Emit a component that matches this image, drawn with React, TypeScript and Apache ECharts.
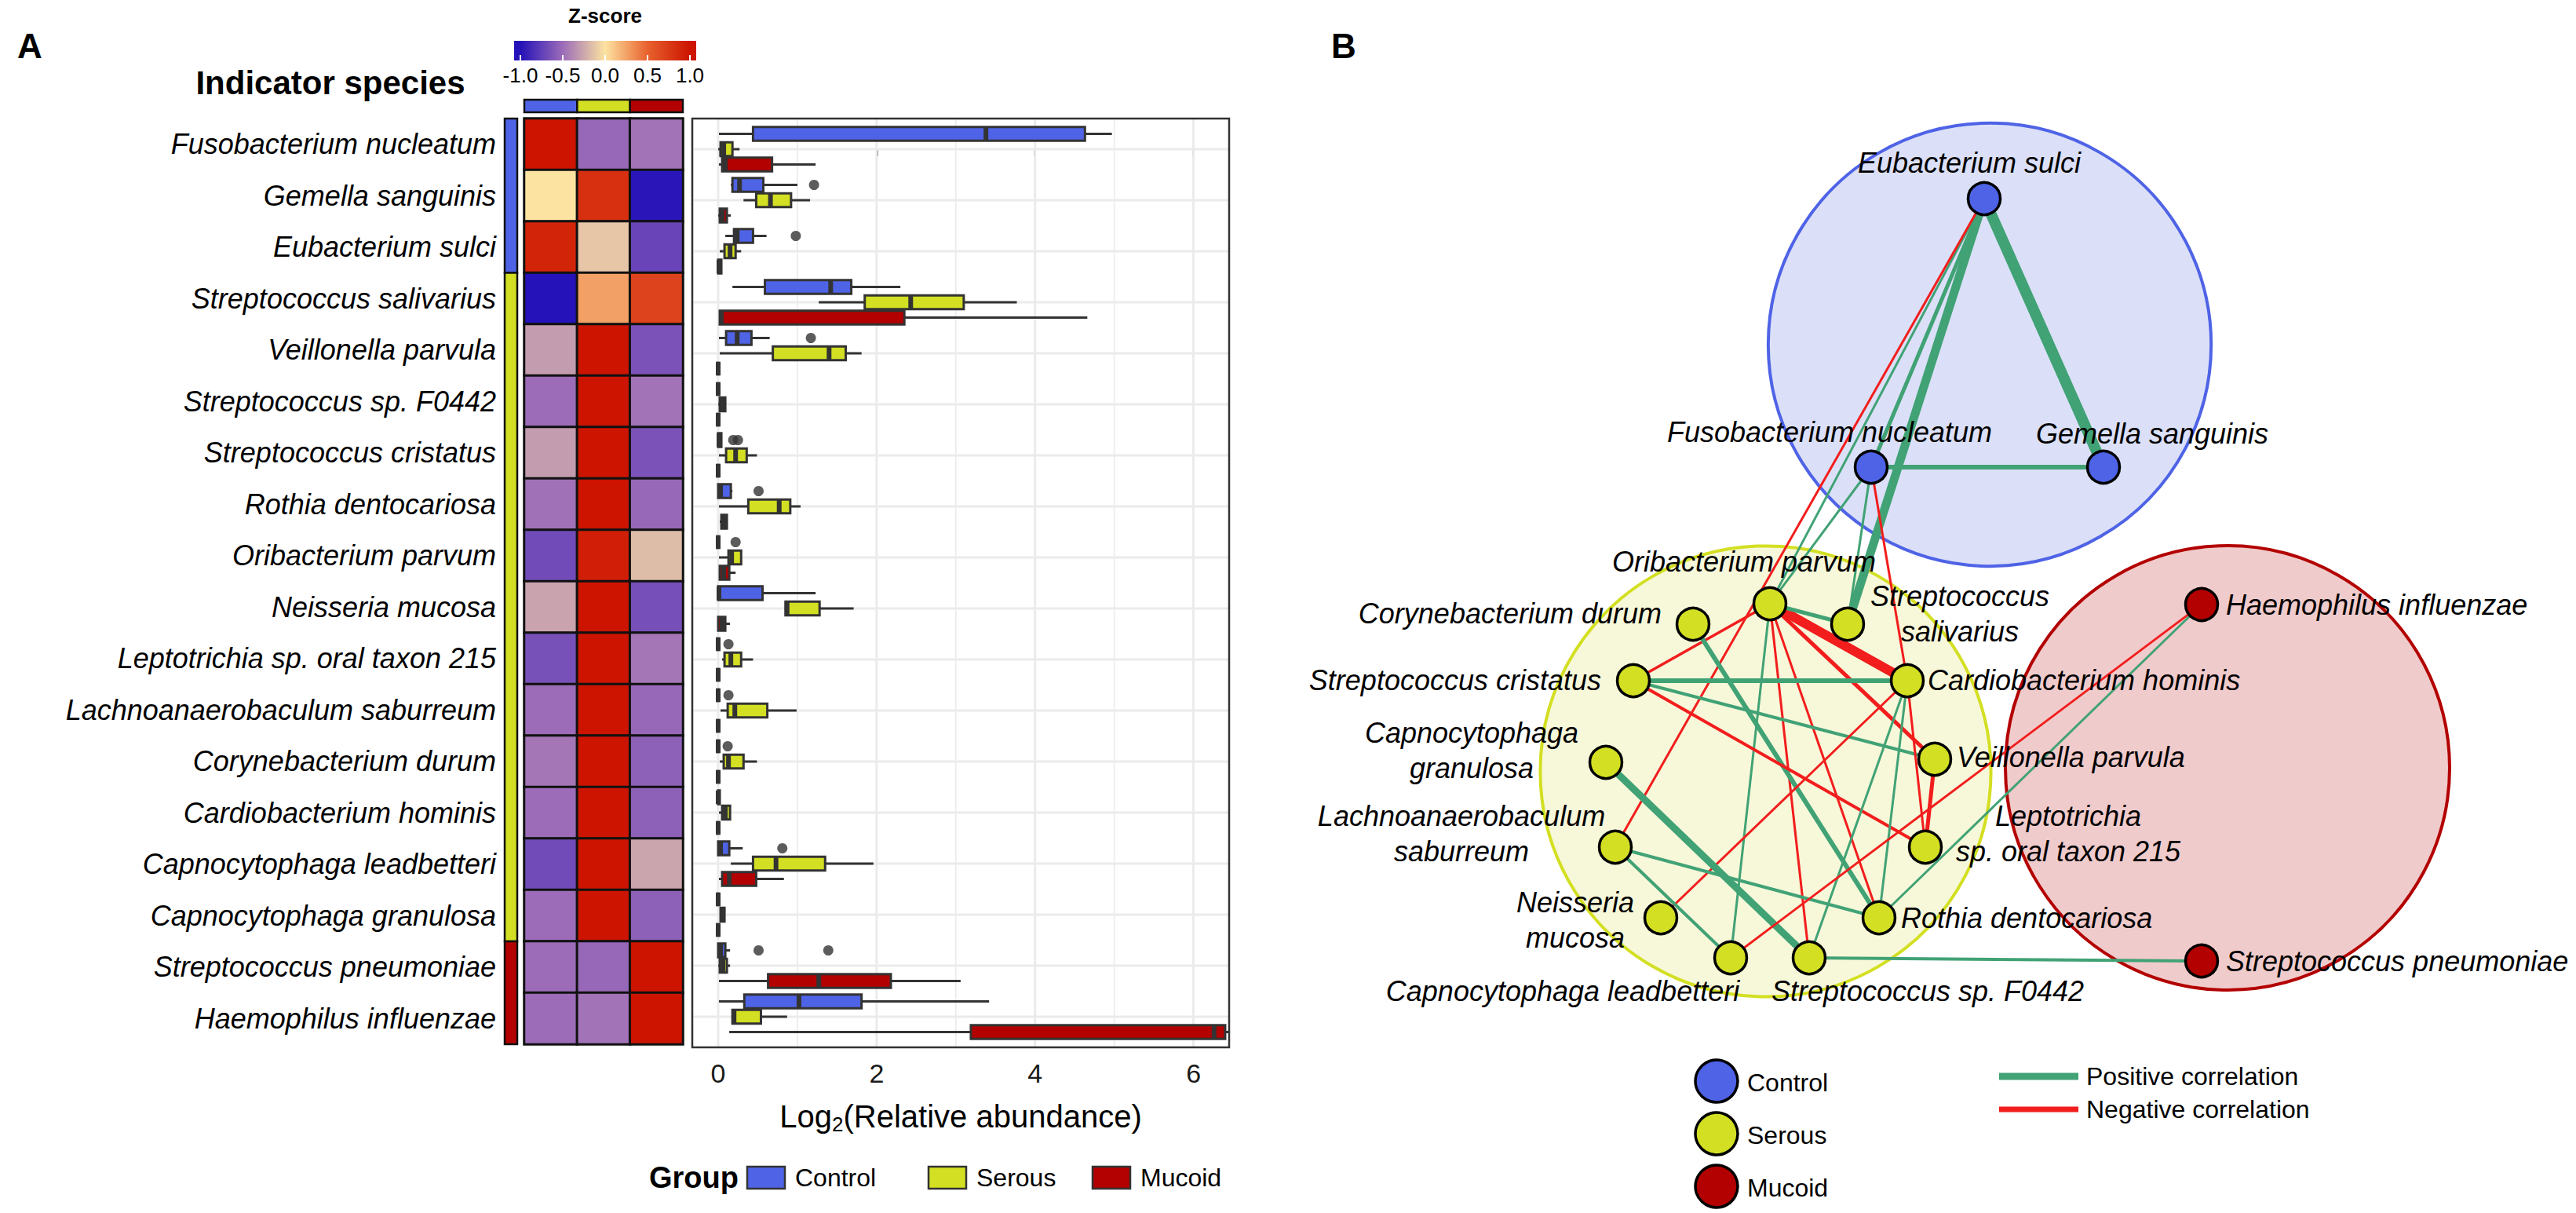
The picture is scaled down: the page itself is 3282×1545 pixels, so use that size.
import React, { useEffect, useRef } from 'react';
import * as echarts from 'echarts';

const FONT = '"Liberation Sans", Arial, Helvetica, sans-serif';

// ---------------- Panel A data ----------------
const species = [
  'Fusobacterium nucleatum', 'Gemella sanguinis', 'Eubacterium sulci', 'Streptococcus salivarius',
  'Veillonella parvula', 'Streptococcus sp. F0442', 'Streptococcus cristatus', 'Rothia dentocariosa',
  'Oribacterium parvum', 'Neisseria mucosa', 'Leptotrichia sp. oral taxon 215', 'Lachnoanaerobaculum saburreum',
  'Corynebacterium durum', 'Cardiobacterium hominis', 'Capnocytophaga leadbetteri', 'Capnocytophaga granulosa',
  'Streptococcus pneumoniae', 'Haemophilus influenzae',
];
const groupNames = ['Control', 'Serous', 'Mucoid'];
const speciesGroup = [0, 0, 0, 1, 1, 1, 1, 1, 1, 1, 1, 1, 1, 1, 1, 1, 2, 2];

// z-scores per group
const zControl = [1.0, 0.0, 0.9, -1.0, -0.3, -0.5, -0.3, -0.48, -0.68, -0.27, -0.65, -0.5, -0.46, -0.5, -0.68, -0.5, -0.5, -0.5];
const zSerous = [-0.52, 0.82, -0.12, 0.26, 1, 1, 1, 1, 0.93, 1, 1, 1, 1, 1, 1, 1, -0.52, -0.47];
const zMucoid = [-0.47, -0.98, -0.72, 0.7, -0.64, -0.47, -0.64, -0.52, -0.16, -0.66, -0.46, -0.52, -0.56, -0.56, -0.26, -0.56, 1, 1];
const zTicks = [-1, -0.5, 0, 0.5, 1];
const zBarRange = [-1.074, 1.074];

// boxplot stats [min, q1, median, q3, max] of log2(relative abundance)
const boxControl = [
  [0.01, 0.44, 3.38, 4.63, 4.97], [0.16, 0.18, 0.27, 0.57, 1.0], [0.09, 0.2, 0.24, 0.44, 0.61],
  [0.18, 0.59, 1.42, 1.68, 2.3], [0.01, 0.1, 0.24, 0.42, 0.65], [0, 0, 0, 0, 0],
  [0, 0, 0.01, 0.04, 0.05], [0, 0, 0.03, 0.16, 0.18], [0, 0, 0, 0, 0],
  [0, 0, 0.01, 0.56, 1.23], [0, 0, 0, 0, 0], [0, 0, 0, 0, 0],
  [0, 0, 0, 0, 0], [0, 0, 0, 0.02, 0.02], [0, 0, 0.03, 0.14, 0.31],
  [0, 0, 0, 0, 0], [0, 0, 0.03, 0.09, 0.15], [0.01, 0.33, 1.02, 1.81, 3.42],
];
const boxSerous = [
  [0.0, 0.03, 0.07, 0.18, 0.27], [0.32, 0.48, 0.66, 0.92, 1.16], [0.02, 0.08, 0.15, 0.22, 0.29],
  [1.27, 1.85, 2.43, 3.1, 3.77], [0.02, 0.69, 1.4, 1.61, 1.81], [0.0, 0.02, 0.05, 0.09, 0.1],
  [0.01, 0.1, 0.22, 0.36, 0.49], [0.01, 0.38, 0.77, 0.91, 1.04], [0.01, 0.13, 0.17, 0.29, 0.29],
  [0.84, 0.85, 0.87, 1.28, 1.71], [0.05, 0.08, 0.16, 0.29, 0.44], [0.03, 0.12, 0.21, 0.62, 0.99],
  [0.02, 0.07, 0.13, 0.32, 0.49], [0.01, 0.05, 0.09, 0.15, 0.15], [0.16, 0.44, 0.73, 1.35, 1.96],
  [0.03, 0.03, 0.05, 0.08, 0.08], [0.0, 0.02, 0.06, 0.11, 0.15], [0.18, 0.18, 0.2, 0.54, 0.87],
];
const boxMucoid = [
  [0.01, 0.05, 0.09, 0.68, 1.23], [0.0, 0.02, 0.05, 0.11, 0.16], [0, 0, 0.01, 0.04, 0.04],
  [0.01, 0.02, 0.04, 2.35, 4.66], [0, 0, 0, 0, 0], [0, 0, 0, 0, 0],
  [0, 0, 0, 0, 0], [0.02, 0.04, 0.08, 0.11, 0.12], [0.01, 0.02, 0.07, 0.14, 0.22],
  [0, 0, 0.05, 0.09, 0.15], [0, 0, 0, 0, 0], [0, 0, 0, 0, 0],
  [0, 0, 0, 0, 0], [0, 0, 0, 0, 0], [0.01, 0.05, 0.14, 0.48, 0.83],
  [0, 0, 0, 0, 0], [0.01, 0.63, 1.27, 2.18, 3.06], [0.14, 3.19, 6.26, 6.4, 6.45],
];
// outliers [speciesIndex, value]
const outControl = [[1, 1.21], [2, 0.98], [4, 1.17], [6, 0.19], [6, 0.25], [7, 0.51], [8, 0.22], [10, 0.13], [11, 0.13], [12, 0.12], [14, 0.81], [16, 0.51], [16, 1.39]];
const outSerous: number[][] = [];
const outMucoid: number[][] = [];
const xTicks = [0, 2, 4, 6];
const xGridValues = [0, 1, 2, 3, 4, 5, 6];

// ---------------- Panel B data ----------------
const netNames = [
  'Eubacterium sulci', 'Fusobacterium nucleatum', 'Gemella sanguinis', 'Oribacterium parvum',
  'Streptococcus\nsalivarius', 'Corynebacterium durum', 'Streptococcus cristatus', 'Cardiobacterium hominis',
  'Capnocytophaga\ngranulosa', 'Veillonella parvula', 'Lachnoanaerobaculum\nsaburreum', 'Leptotrichia\nsp. oral taxon 215',
  'Neisseria\nmucosa', 'Rothia dentocariosa', 'Capnocytophaga leadbetteri', 'Streptococcus sp. F0442',
  'Haemophilus influenzae', 'Streptococcus pneumoniae',
];
const netGroup = [0, 0, 0, 1, 1, 1, 1, 1, 1, 1, 1, 1, 1, 1, 1, 1, 2, 2];
// layout coordinates
const netX = [2528, 2384, 2680, 2255, 2354, 2157, 2081, 2430, 2046, 2465, 2058, 2453, 2116, 2394, 2205, 2305, 2805, 2805];
const netY = [253, 595, 595, 769, 795, 795, 867, 867, 971, 967, 1079, 1079, 1169, 1169, 1220, 1220, 770, 1224];
// edges: source, target, sign (1 positive / -1 negative), weight
const edgeSource = [0, 0, 0, 0, 0, 1, 1, 1, 1, 3, 3, 3, 3, 3, 3, 3, 5, 6, 6, 6, 7, 7, 7, 7, 9, 8, 10, 10, 15, 14, 13];
const edgeTarget = [2, 4, 1, 3, 10, 2, 3, 4, 7, 7, 4, 6, 9, 14, 13, 15, 13, 7, 9, 11, 12, 15, 13, 11, 11, 15, 13, 14, 17, 16, 16];
const edgeSign = [1, 1, 1, 1, -1, 1, 1, 1, -1, -1, 1, -1, -1, 1, -1, -1, 1, 1, 1, -1, -1, 1, 1, -1, -1, 1, 1, 1, 1, -1, 1];
const edgeWeight = [14, 11, 5, 3, 3, 6, 3, 3, 3, 12, 5, 3.5, 5, 3, 3, 3, 6, 6, 4, 4, 3, 3, 3, 3, 5, 9, 4, 4, 4, 3, 3];

// ---------------- styles / layout ----------------
const groupColors = ['#4f63e6', '#d3df22', '#b30000'];
const zPalette = ['#2512b8', '#9c6cb8', '#fde3a1', '#e8622e', '#cc1400'];
const hullFill = ['#dbe0f8', '#f7f8d9', '#f0cbcb'];
const hullShift = [[3, 15], [-6, -12], [33, -19]];
const edgeColors = { pos: '#41a275', neg: '#f21d1d' };
const HM = { left: 668, top: 151, width: 202, height: 1179 };
const BX = { left: 882, top: 151, width: 684, height: 1183 };
const CB = { left: 663, top: 52, width: 216, height: 25 };
const NET = { left: 1640, top: 0, width: 1642, height: 1545 };
const BX_X = [-0.327, 6.45];
const BX_Y = [-0.6, 17.6];
const DODGE = [-0.3, 0, 0.3];
const BOX_H = 0.27;
const HULL_PAD = 56;
// label anchors relative to the node: [dx, dy, align]
const netLabelStyle: [number, number, string][] = [
  [-19, -46, 'center'], [-53, -45, 'center'], [62, -43, 'center'], [-33, -54, 'center'],
  [143, -13, 'center'], [-40, -14, 'right'], [-41, -1, 'right'], [26, -1, 'left'],
  [-171, -15, 'center'], [28, -3, 'left'], [-196, -17, 'center'], [182, -17, 'center'],
  [-109, 3, 'center'], [28, 0, 'left'], [-214, 42, 'center'], [151, 42, 'center'],
  [31, 0, 'left'], [31, 0, 'left'],
];

function txt(text: string, x: number, y: number, size: number, opts: any = {}) {
  return {
    type: 'text', x, y, silent: true,
    style: {
      text, fill: '#000', fontSize: size, fontFamily: FONT, fontWeight: opts.bold ? 'bold' : 'normal',
      fontStyle: opts.italic ? 'italic' : 'normal',
      align: opts.align || 'left', textAlign: opts.align || 'left',
      verticalAlign: 'middle', textVerticalAlign: 'middle', ...(opts.extra || {}),
    },
  };
}

function buildOption() {
  const zAll = [zControl, zSerous, zMucoid];
  const heatData: number[][] = [];
  species.forEach((_, i) => groupNames.forEach((_, g) => heatData.push([g, i, zAll[g][i]])));

  // contiguous segments of indicator groups
  const segs: number[][] = [];
  speciesGroup.forEach((g, i) => {
    const last = segs[segs.length - 1];
    if (last && last[2] === g) last[1] = i; else segs.push([i, i, g]);
  });

  const boxStats = [boxControl, boxSerous, boxMucoid];
  const outs = [outControl, outSerous, outMucoid];

  const span = zBarRange[1] - zBarRange[0];
  const gradStops = [
    { offset: 0, color: zPalette[0] },
    ...zTicks.map((t, k) => ({ offset: (t - zBarRange[0]) / span, color: zPalette[k] })),
    { offset: 1, color: zPalette[zPalette.length - 1] },
  ];

  const series: any[] = [
    {
      type: 'heatmap', xAxisIndex: 0, yAxisIndex: 0, data: heatData,
      itemStyle: { borderColor: '#111', borderWidth: 3 }, emphasis: { disabled: true }, silent: true,
    },
    {
      type: 'custom', xAxisIndex: 0, yAxisIndex: 0, clip: false, silent: true, z: 3,
      data: segs,
      renderItem: (p: any, api: any) => {
        const a = api.coord([0, api.value(0)]);
        const b = api.coord([0, api.value(1)]);
        const band = api.size([0, 1])[1];
        const colW = api.size([1, 0])[0];
        return {
          type: 'rect',
          shape: { x: a[0] - colW / 2 - 25, y: a[1] - band / 2, width: 16, height: b[1] - a[1] + band },
          style: { fill: groupColors[api.value(2)], stroke: '#111', lineWidth: 2.5 },
        };
      },
    },
    {
      type: 'custom', xAxisIndex: 0, yAxisIndex: 0, clip: false, silent: true, z: 3,
      data: groupNames.map((_, g) => [g, 0]),
      renderItem: (p: any, api: any) => {
        const a = api.coord([api.value(0), 0]);
        const band = api.size([0, 1])[1];
        const colW = api.size([1, 0])[0];
        return {
          type: 'rect',
          shape: { x: a[0] - colW / 2, y: a[1] - band / 2 - 24, width: colW, height: 16 },
          style: { fill: groupColors[api.value(0)], stroke: '#111', lineWidth: 2.5 },
        };
      },
    },
    {
      type: 'custom', xAxisIndex: 2, yAxisIndex: 2, clip: false, silent: true, z: 2,
      data: [[0, 0]],
      renderItem: (p: any, api: any) => {
        const a = api.coord([zBarRange[0], 1]);
        const b = api.coord([zBarRange[1], 0]);
        return {
          type: 'rect', shape: { x: a[0], y: a[1], width: b[0] - a[0], height: b[1] - a[1] },
          style: { fill: new echarts.graphic.LinearGradient(0, 0, 1, 0, gradStops) },
        };
      },
    },
    // grid lines of the boxplot panel
    {
      type: 'custom', xAxisIndex: 1, yAxisIndex: 1, silent: true, z: 1,
      data: xGridValues.map((v) => [v, 0]),
      renderItem: (p: any, api: any) => {
        const v = api.value(0);
        const a = api.coord([v, BX_Y[0]]);
        const b = api.coord([v, BX_Y[1]]);
        return { type: 'line', shape: { x1: a[0], y1: a[1], x2: b[0], y2: b[1] }, style: { stroke: '#ebebeb', lineWidth: v % 2 === 0 ? 3 : 1.6 } };
      },
    },
    {
      type: 'custom', xAxisIndex: 1, yAxisIndex: 1, silent: true, z: 1,
      data: species.map((_, i) => [0, i]),
      renderItem: (p: any, api: any) => {
        const i = api.value(1);
        const a = api.coord([BX_X[0], i]);
        const b = api.coord([BX_X[1], i]);
        return { type: 'line', shape: { x1: a[0], y1: a[1], x2: b[0], y2: b[1] }, style: { stroke: '#ebebeb', lineWidth: 3 } };
      },
    },
    ...groupNames.map((g, gi) => ({
      type: 'custom', name: g, xAxisIndex: 1, yAxisIndex: 1, z: 3, clip: false, silent: true,
      data: boxStats[gi].map((b, i) => [i, ...b]),
      encode: { x: [1, 2, 3, 4, 5], y: 0 },
      renderItem: (p: any, api: any) => {
        const yv = api.value(0) + DODGE[gi];
        const pts = [1, 2, 3, 4, 5].map((k) => api.coord([api.value(k), yv]));
        const h = api.size([0, BOX_H])[1];
        const cy = pts[0][1];
        const st = { stroke: '#333', lineWidth: 3 };
        return {
          type: 'group', children: [
            { type: 'line', shape: { x1: pts[0][0], y1: cy, x2: pts[1][0], y2: cy }, style: st },
            { type: 'line', shape: { x1: pts[3][0], y1: cy, x2: pts[4][0], y2: cy }, style: st },
            { type: 'rect', shape: { x: pts[1][0], y: cy - h / 2, width: pts[3][0] - pts[1][0], height: h }, style: { fill: groupColors[gi], stroke: '#333', lineWidth: 3 } },
            { type: 'line', shape: { x1: pts[2][0], y1: cy - h / 2, x2: pts[2][0], y2: cy + h / 2 }, style: { stroke: '#333', lineWidth: 6 } },
          ],
        };
      },
    })),
    ...groupNames.map((g, gi) => ({
      type: 'scatter', xAxisIndex: 1, yAxisIndex: 1, z: 4, silent: true, symbolSize: 13,
      itemStyle: { color: '#333' },
      data: outs[gi].map((o) => [o[1], o[0] + DODGE[gi]]),
    })),
    // panel border
    {
      type: 'custom', xAxisIndex: 1, yAxisIndex: 1, silent: true, z: 6, data: [[0, 0]],
      renderItem: (p: any) => ({
        type: 'rect', shape: { x: p.coordSys.x, y: p.coordSys.y, width: p.coordSys.width, height: p.coordSys.height },
        style: { fill: 'none', stroke: '#333', lineWidth: 2.5 },
      }),
    },
    // network group hulls
    {
      type: 'custom', xAxisIndex: 3, yAxisIndex: 3, silent: true, clip: false, z: 1,
      data: groupNames.map((_, g) => [g, 0]),
      renderItem: (p: any, api: any) => {
        const g = api.value(0);
        const pts = netX.map((x, i) => [x, netY[i], netGroup[i]]).filter((d) => d[2] === g).map((d) => api.coord([d[0], d[1]]));
        const xs = pts.map((q: number[]) => q[0]);
        const ys = pts.map((q: number[]) => q[1]);
        const cx0 = (Math.min(...xs) + Math.max(...xs)) / 2;
        const cy0 = (Math.min(...ys) + Math.max(...ys)) / 2;
        const r = Math.max(...pts.map((q: number[]) => Math.hypot(q[0] - cx0, q[1] - cy0))) + HULL_PAD;
        return {
          type: 'circle', shape: { cx: cx0 + hullShift[g][0], cy: cy0 + hullShift[g][1], r },
          style: { fill: hullFill[g], stroke: groupColors[g], lineWidth: 4 },
        };
      },
    },
    {
      type: 'graph', coordinateSystem: 'cartesian2d', xAxisIndex: 3, yAxisIndex: 3, layout: 'none', z: 3,
      silent: true, symbol: 'circle', symbolSize: 41, emphasis: { disabled: true },
      data: netNames.map((n, i) => ({
        name: n, value: [netX[i], netY[i]],
        itemStyle: { color: groupColors[netGroup[i]], borderColor: '#000', borderWidth: 3.5 },
        label: {
          show: true, position: ['50%', '50%'], offset: [netLabelStyle[i][0], netLabelStyle[i][1]],
          align: netLabelStyle[i][2], verticalAlign: 'middle', fontSize: 36, fontStyle: 'italic',
          fontFamily: FONT, color: '#000', lineHeight: 45, formatter: '{b}',
        },
      })),
      links: edgeSource.map((s, k) => ({
        source: s, target: edgeTarget[k],
        lineStyle: { color: edgeSign[k] > 0 ? edgeColors.pos : edgeColors.neg, width: edgeWeight[k], opacity: 1, curveness: 0 },
      })),
    },
  ];

  const legendY = 1500;
  const graphic: any[] = [
    txt('A', 38, 58, 44, { bold: true, align: 'center' }),
    txt('B', 1712, 58, 44, { bold: true, align: 'center' }),
    txt('Z-score', 771, 20, 26, { bold: true, align: 'center' }),
    txt('Indicator species', 421, 105, 42, { bold: true, align: 'center' }),
    txt('Log{sub|2}(Relative abundance)', 1224, 1422, 40, {
      align: 'center',
      extra: { lineHeight: 46, rich: { sub: { fontSize: 26, lineHeight: 26, verticalAlign: 'bottom', fontFamily: FONT } } },
    }),
    txt('Group', 827, legendY, 38, { bold: true }),
  ];
  const keyX = [952, 1183, 1392];
  groupNames.forEach((g, gi) => {
    graphic.push({ type: 'rect', silent: true, shape: { x: keyX[gi], y: legendY - 14, width: 48, height: 28 }, style: { fill: groupColors[gi], stroke: '#333', lineWidth: 2.5 } });
    graphic.push(txt(g, keyX[gi] + 61, legendY, 32));
  });
  const nodeLegY = [1377, 1444, 1511];
  groupNames.forEach((g, gi) => {
    graphic.push({ type: 'circle', silent: true, shape: { cx: 2187, cy: nodeLegY[gi], r: 27 }, style: { fill: groupColors[gi], stroke: '#000', lineWidth: 3.5 } });
    graphic.push(txt(g, 2226, nodeLegY[gi] + 2, 32));
  });
  graphic.push({ type: 'line', silent: true, shape: { x1: 2547, y1: 1371, x2: 2648, y2: 1371 }, style: { stroke: edgeColors.pos, lineWidth: 9 } });
  graphic.push(txt('Positive correlation', 2658, 1371, 32));
  graphic.push({ type: 'line', silent: true, shape: { x1: 2547, y1: 1413, x2: 2648, y2: 1413 }, style: { stroke: edgeColors.neg, lineWidth: 7 } });
  graphic.push(txt('Negative correlation', 2658, 1413, 32));

  return {
    animation: false,
    backgroundColor: '#fff',
    textStyle: { fontFamily: FONT },
    grid: [
      { ...HM, containLabel: false },
      { ...BX, containLabel: false },
      { ...CB, containLabel: false },
      { ...NET, containLabel: false },
    ],
    xAxis: [
      { type: 'category', gridIndex: 0, data: groupNames, show: false },
      {
        type: 'value', gridIndex: 1, min: BX_X[0], max: BX_X[1], splitLine: { show: false },
        axisLine: { show: false },
        axisTick: { show: true, customValues: xTicks, length: 9, lineStyle: { color: '#333', width: 2.5 } },
        axisLabel: { customValues: xTicks, fontSize: 34, color: '#1a1a1a', margin: 16, fontFamily: FONT },
      },
      {
        type: 'value', gridIndex: 2, min: -1, max: 1, interval: 0.5, z: 5,
        splitLine: { show: false }, axisLine: { show: false },
        axisTick: { show: true, inside: true, length: 7, lineStyle: { color: '#fff', width: 2 } },
        axisLabel: { fontSize: 26, color: '#000', margin: 6, fontFamily: FONT, formatter: (v: number) => v.toFixed(1) },
      },
      { type: 'value', gridIndex: 3, min: NET.left, max: NET.left + NET.width, show: false },
    ],
    yAxis: [
      {
        type: 'category', gridIndex: 0, data: species, inverse: true,
        axisLine: { show: false }, axisTick: { show: false }, splitLine: { show: false },
        axisLabel: { fontSize: 36, fontStyle: 'italic', color: '#000', margin: 36, fontFamily: FONT },
      },
      { type: 'value', gridIndex: 1, min: BX_Y[0], max: BX_Y[1], inverse: true, show: false },
      { type: 'value', gridIndex: 2, min: 0, max: 1, show: false },
      { type: 'value', gridIndex: 3, min: NET.top, max: NET.top + NET.height, inverse: true, show: false },
    ],
    visualMap: [{
      type: 'continuous', min: -1, max: 1, dimension: 2, seriesIndex: 0, show: false,
      inRange: { color: zPalette },
    }],
    series,
    graphic,
  };
}

export default function App() {
  const ref = useRef<HTMLDivElement>(null);
  useEffect(() => {
    const chart = echarts.init(ref.current as HTMLDivElement, undefined, { renderer: 'svg', width: 3282, height: 1545 });
    chart.setOption(buildOption() as any);
    return () => chart.dispose();
  }, []);
  return <div ref={ref} style={{ position: 'fixed', left: 0, top: 0, width: 3282, height: 1545, background: '#fff' }} />;
}
